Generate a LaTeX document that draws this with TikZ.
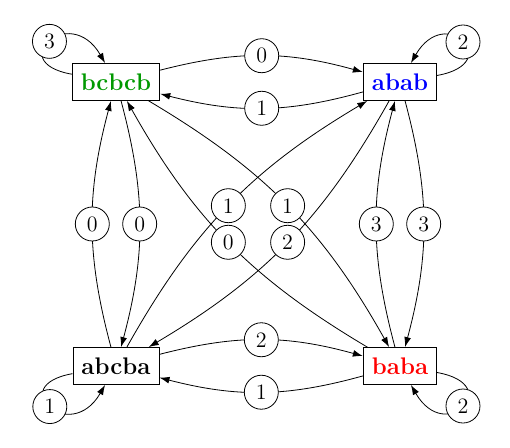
\documentclass[tikz,border=0pt]{standalone}
\usetikzlibrary{arrows.meta}
\definecolor{wgreen}{RGB}{0,153,0}
\begin{document}
\begin{tikzpicture}[x=0.5pt,y=0.5pt,
  state/.style={draw, fill=white, minimum height=18.5pt, inner xsep=4.3pt, inner ysep=0pt, font=\large\bfseries},
  lbl/.style={circle, draw, fill=white, minimum size=17pt, inner sep=0pt, font=\fontsize{11}{13}\selectfont},
  arr/.style={-{Latex[length=5pt,width=3.4pt]}},
  bl/.style={bend left=15},
]
\useasboundingbox (0,0) rectangle (510,-448);
\node[state, text=wgreen] (bc) at (116,-82) {bcbcb};
\node[state, text=blue] (ab) at (400,-82) {abab};
\node[state] (abc) at (116,-366) {abcba};
\node[state, text=red] (ba) at (400,-366) {baba};

\draw[arr] (bc) to[bl] coordinate[pos=0.5] (m1) (ab);
\draw[arr] (ab) to[bl] coordinate[pos=0.5] (m2) (bc);
\draw[arr] (abc) to[bl] coordinate[pos=0.5] (m3) (ba);
\draw[arr] (ba) to[bl] coordinate[pos=0.5] (m4) (abc);
\draw[arr] (abc) to[bl] coordinate[pos=0.5] (m5) (bc);
\draw[arr] (bc) to[bl] coordinate[pos=0.5] (m6) (abc);
\draw[arr] (ba) to[bl] coordinate[pos=0.5] (m7) (ab);
\draw[arr] (ab) to[bl] coordinate[pos=0.5] (m8) (ba);
\draw[arr] (abc) to[bl] coordinate[pos=0.5] (m9) (ab);
\draw[arr] (ab) to[bl] coordinate[pos=0.5] (m10) (abc);
\draw[arr] (bc) to[bl] coordinate[pos=0.5] (m11) (ba);
\draw[arr] (ba) to[bl] coordinate[pos=0.5] (m12) (bc);

\draw[arr] (bc) to[out=170,in=120,distance=35pt] coordinate[pos=0.5] (l1) (bc);
\draw[arr] (ab) to[out=10,in=60,distance=35pt] coordinate[pos=0.5] (l2) (ab);
\draw[arr] (abc) to[out=190,in=240,distance=35pt] coordinate[pos=0.5] (l3) (abc);
\draw[arr] (ba) to[out=350,in=300,distance=35pt] coordinate[pos=0.5] (l4) (ba);

\node[lbl] (n1) at (m1) {0};
\node[lbl] (n2) at (m2) {1};
\node[lbl] (n3) at (m3) {2};
\node[lbl] (n4) at (m4) {1};
\node[lbl] (n5) at (m5) {0};
\node[lbl] (n6) at (m6) {0};
\node[lbl] (n7) at (m7) {3};
\node[lbl] (n8) at (m8) {3};
\node[lbl] (n9) at (m9) {1};
\node[lbl] (n10) at (m10) {2};
\node[lbl] (n11) at (m11) {1};
\node[lbl] (n12) at (m12) {0};
\node[lbl] (o1) at (l1) {3};
\node[lbl] (o2) at (l2) {2};
\node[lbl] (o3) at (l3) {1};
\node[lbl] (o4) at (l4) {2};
\end{tikzpicture}
\end{document}
